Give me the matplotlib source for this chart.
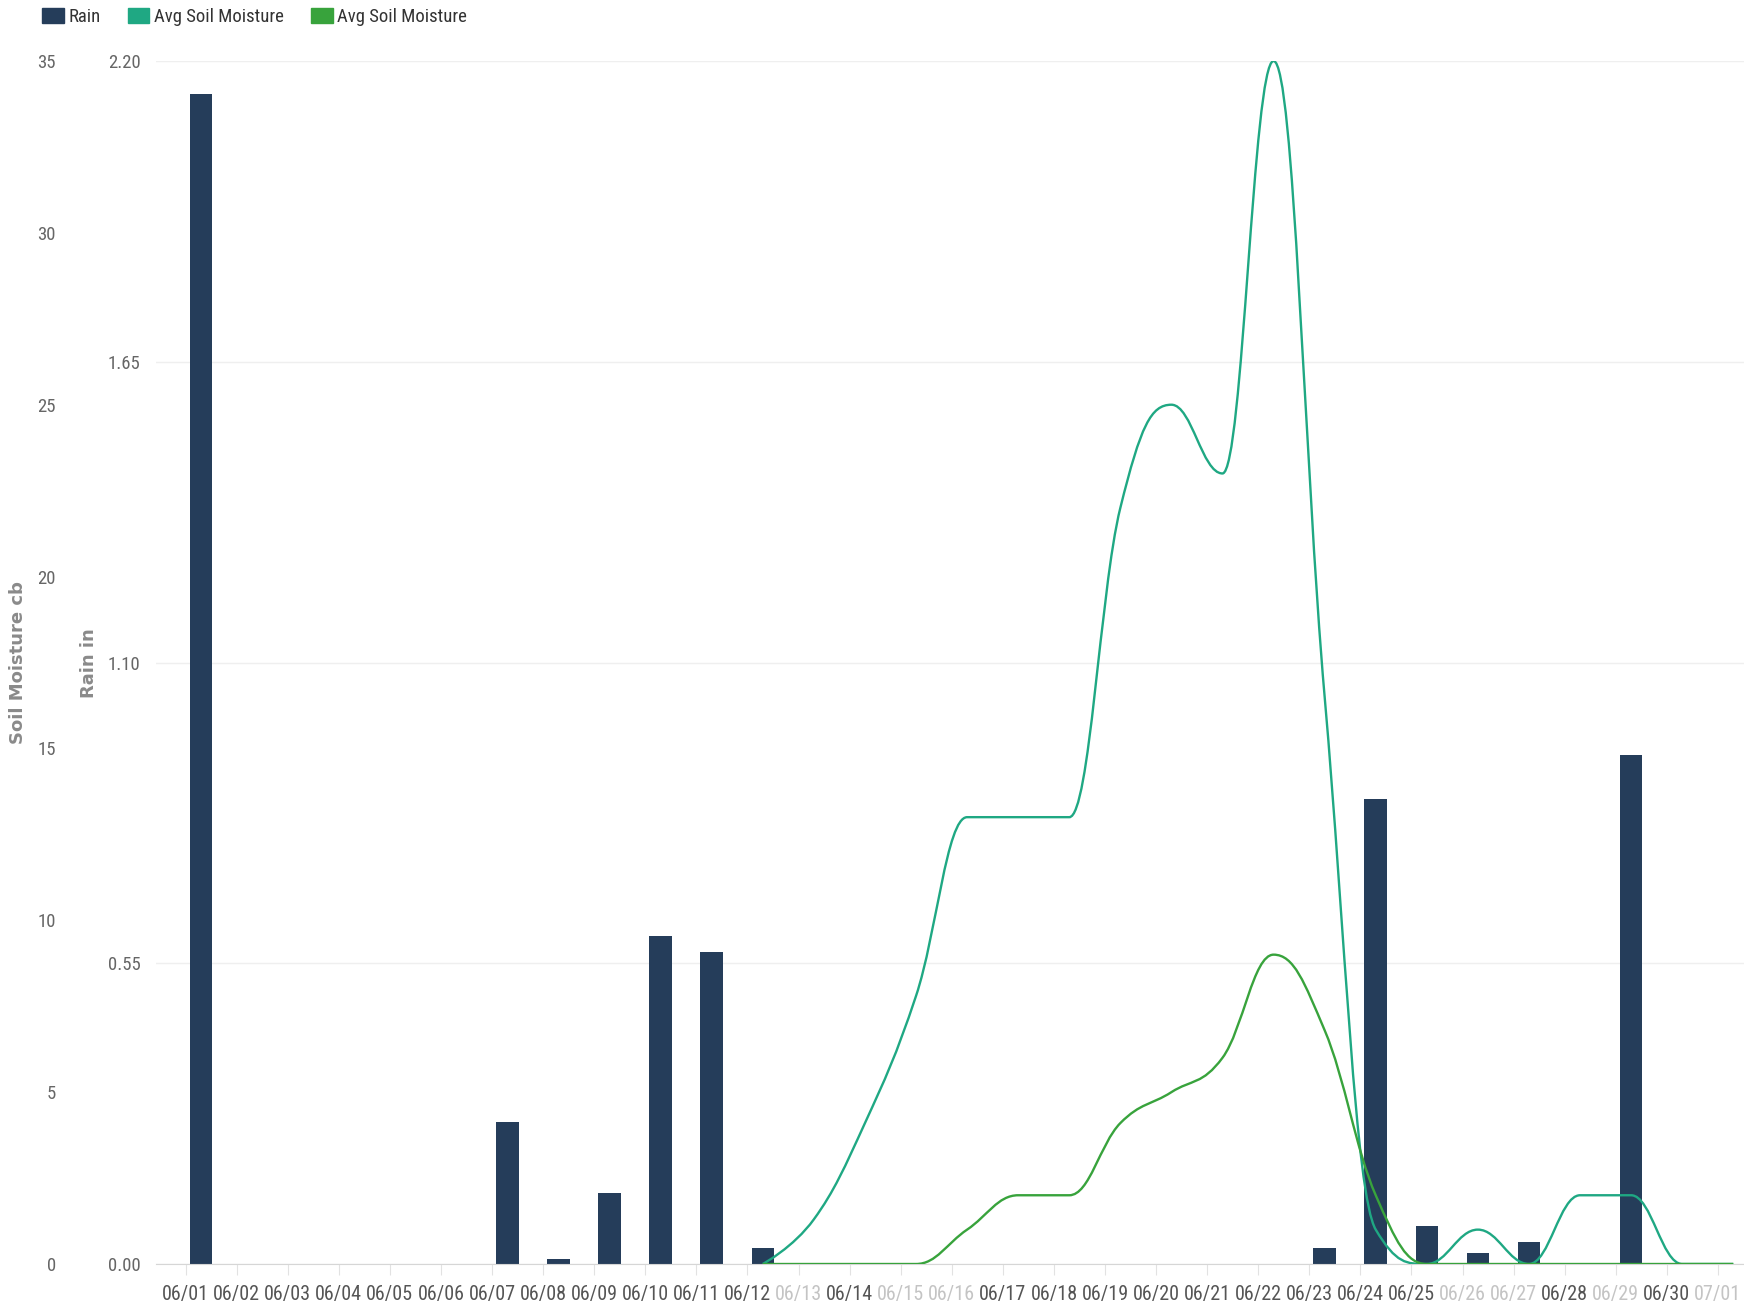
import numpy as np
import matplotlib
matplotlib.use("Agg")
import matplotlib.pyplot as plt
from matplotlib import font_manager
from matplotlib.font_manager import FontProperties
from matplotlib.path import Path
from matplotlib.patches import PathPatch, Patch
import matplotlib.ticker as mticker

dates = ["06/01", "06/02", "06/03", "06/04", "06/05", "06/06", "06/07", "06/08",
         "06/09", "06/10", "06/11", "06/12", "06/13", "06/14", "06/15", "06/16",
         "06/17", "06/18", "06/19", "06/20", "06/21", "06/22", "06/23", "06/24",
         "06/25", "06/26", "06/27", "06/28", "06/29", "06/30", "07/01"]

# rain in inches, one per day
rain_in = [2.14, 0, 0, 0, 0, 0, 0.26, 0.01, 0.13, 0.60, 0.57, 0.03,
           0, 0, 0, 0, 0, 0, 0, 0, 0, 0,
           0.03, 0.85, 0.07, 0.02, 0.04, 0, 0.93, 0, 0]

# soil moisture in cb (no readings before 06/12)
soil_a = [None] * 11 + [0, 1.3, 4.1, 7.8, 13, 13, 13, 22, 25, 23, 35, 16.5,
                        1, 0, 1, 0, 2, 2, 0, 0]
soil_b = [None] * 11 + [0, 0, 0, 0, 1.0, 2.0, 2.0, 4.1, 5.0, 6.0, 9.0, 6.8,
                        2.0, 0, 0, 0, 0, 0, 0, 0]

faded = ["06/13", "06/15", "06/16", "06/26", "06/27", "06/29", "07/01"]

# look for a narrow/condensed face for the ticks and legend
cond_path = None
for want in ["Roboto Condensed", "Liberation Sans Narrow", "Open Sans Condensed",
             "Noto Sans Condensed", "DejaVu Sans Condensed"]:
    for f in font_manager.fontManager.ttflist:
        if f.name == want and f.weight in (400, "normal", "regular") and f.style == "normal":
            cond_path = f.fname
            break
    if cond_path:
        break
if cond_path is None:
    for f in font_manager.fontManager.ttflist:
        fn = f.fname.lower()
        if ("condensed" in fn or "narrow" in fn) and "bold" not in fn \
                and "italic" not in fn and "oblique" not in fn and "light" not in fn:
            cond_path = f.fname
            break

if cond_path:
    def cfont(size):
        return FontProperties(fname=cond_path, size=size)
    xsize = 14.5
else:
    def cfont(size):
        return FontProperties(family="Liberation Sans", size=size)
    xsize = 12

bar_color = "#253d5a"
teal = "#1fa883"
green = "#38a33c"


def spline_path(xs, ys, smoothing=1.5):
    # highcharts-style spline: cubic bezier through every point
    n = len(xs)
    left = [(x, y) for x, y in zip(xs, ys)]
    right = [(x, y) for x, y in zip(xs, ys)]
    for i in range(1, n - 1):
        x, y = xs[i], ys[i]
        lx, ly = xs[i - 1], ys[i - 1]
        nx, ny = xs[i + 1], ys[i + 1]
        d = smoothing + 1
        lcx, lcy = (smoothing * x + lx) / d, (smoothing * y + ly) / d
        rcx, rcy = (smoothing * x + nx) / d, (smoothing * y + ny) / d
        corr = 0
        if rcx != lcx:
            corr = (rcy - lcy) * (rcx - x) / (rcx - lcx) + y - rcy
        lcy += corr
        rcy += corr
        if lcy > ly and lcy > y:
            lcy = max(ly, y)
            rcy = 2 * y - lcy
        elif lcy < ly and lcy < y:
            lcy = min(ly, y)
            rcy = 2 * y - lcy
        if rcy > ny and rcy > y:
            rcy = max(ny, y)
            lcy = 2 * y - rcy
        elif rcy < ny and rcy < y:
            rcy = min(ny, y)
            lcy = 2 * y - rcy
        left[i] = (lcx, lcy)
        right[i] = (rcx, rcy)
    verts = [(xs[0], ys[0])]
    codes = [Path.MOVETO]
    for i in range(1, n):
        verts += [right[i - 1], left[i], (xs[i], ys[i])]
        codes += [Path.CURVE4] * 3
    return Path(verts, codes)


fig = plt.figure(figsize=(17.44, 13.11), dpi=100)
ax = fig.add_axes([156 / 1744, 47 / 1311, 1588 / 1744, 1203 / 1311])
ax2 = ax.twinx()

days = np.arange(len(dates))
pts = days + 0.3  # readings are stamped in the morning

ax.bar(pts, rain_in, width=0.44, color=bar_color, zorder=2)
ax.set_ylim(0, 2.2)
ax.set_yticks([0, 0.55, 1.10, 1.65, 2.20])
ax.yaxis.set_major_formatter(mticker.FormatStrFormatter("%.2f"))
ax.grid(axis="y", color="#efefef", lw=1)
ax.set_axisbelow(True)

for vals, col in [(soil_a, teal), (soil_b, green)]:
    xs = [p for p, v in zip(pts, vals) if v is not None]
    ys = [v for v in vals if v is not None]
    ax2.add_patch(PathPatch(spline_path(xs, ys), facecolor="none",
                            edgecolor=col, lw=1.7, zorder=3))
ax2.set_ylim(0, 35)
ax2.set_yticks(range(0, 36, 5))
ax2.yaxis.set_ticks_position("left")

ax.set_xlim(-0.58, 30.51)
ax.set_xticks(days)
ax.set_xticklabels(dates)
for lab in ax.get_xticklabels():
    lab.set_fontproperties(cfont(xsize))
    lab.set_color("#c4c4c4" if lab.get_text() in faded else "#555555")
ax.tick_params(axis="x", length=8, color="#e2e2e2", pad=7)
ax.tick_params(axis="y", length=0, pad=11, labelcolor="#666666")
ax2.tick_params(axis="y", length=0, pad=72, labelcolor="#666666")
for lab in ax.get_yticklabels() + ax2.get_yticklabels():
    lab.set_fontproperties(cfont(13.5))

for a in (ax, ax2):
    for s in ("top", "right", "left"):
        a.spines[s].set_visible(False)
    a.patch.set_visible(False)
ax.spines["bottom"].set_color("#d6d6d6")
ax2.spines["bottom"].set_visible(False)

fig.text(18 / 1744, 1 - 663 / 1311, "Soil Moisture cb", rotation=90,
         ha="center", va="center", fontsize=13, fontweight="bold",
         color="#8a8a8a", fontfamily="DejaVu Sans")
fig.text(89 / 1744, 1 - 663 / 1311, "Rain in", rotation=90,
         ha="center", va="center", fontsize=13, fontweight="bold",
         color="#8a8a8a", fontfamily="DejaVu Sans")

handles = [Patch(color=bar_color), Patch(color=teal), Patch(color=green)]
fig.legend(handles, ["Rain", "Avg Soil Moisture", "Avg Soil Moisture"],
           loc="upper left", bbox_to_anchor=(42 / 1744, 1 - 8 / 1311),
           ncol=3, frameon=False, borderpad=0, borderaxespad=0,
           handlelength=1.15, handleheight=0.8, handletextpad=0.25,
           columnspacing=1.45, prop=cfont(13.5), labelcolor="#333333")

fig.savefig("out.png", dpi=100)
